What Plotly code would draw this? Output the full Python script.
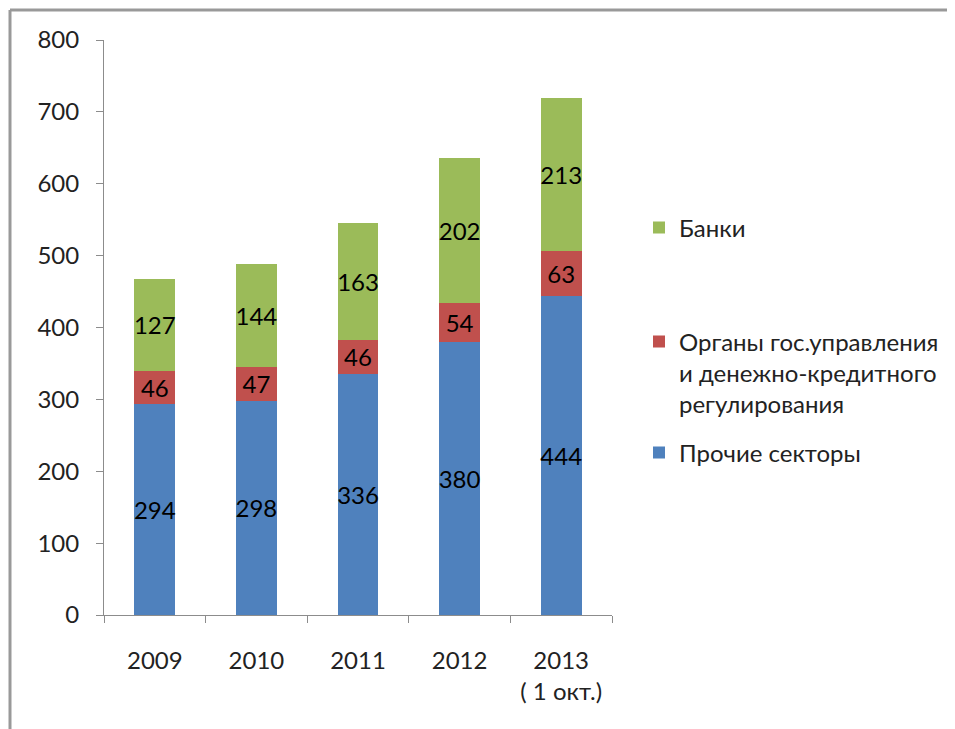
import plotly.graph_objects as go

years = ["2009", "2010", "2011", "2012", "2013<br>( 1 окт.)"]
other_sectors = [294, 298, 336, 380, 444]
government = [46, 47, 46, 54, 63]
banks = [127, 144, 163, 202, 213]

y_ticks = [0, 100, 200, 300, 400, 500, 600, 700, 800]

FONT = "Lato, 'Open Sans', sans-serif"
FONT_SIZE = 24
COLORS = {"other": "#4F81BD", "gov": "#C0504D", "banks": "#9BBB59"}

fig = go.Figure()

series = [
    ("Прочие секторы", other_sectors, COLORS["other"], "legend3"),
    ("Органы гос.управления<br>и денежно-кредитного<br>регулирования", government, COLORS["gov"], "legend2"),
    ("Банки", banks, COLORS["banks"], "legend"),
]
for name, vals, color, leg in series:
    fig.add_trace(go.Bar(
        x=years,
        y=vals,
        name=name,
        marker=dict(color=color, line=dict(width=0)),
        text=vals,
        textposition="inside",
        insidetextanchor="middle",
        constraintext="none",
        textangle=0,
        textfont=dict(color="black", size=FONT_SIZE, family=FONT),
        legend=leg,
        showlegend=True,
    ))

# plot area in the reference: x 104..612, y 40..615 (page has an 8px offset)
def px_x(p):
    return (p - 104) / 508

def px_y(p):
    return (615 - p) / 575

legend_style = dict(
    font=dict(size=FONT_SIZE, family=FONT, color="#222"),
    bgcolor="rgba(0,0,0,0)",
    xanchor="left",
    yanchor="middle",
    valign="top",
    itemwidth=30,
)

fig.update_layout(
    width=955,
    height=729,
    barmode="stack",
    bargap=0.6,
    showlegend=True,
    margin=dict(l=96, r=351, t=32, b=122, autoexpand=False),
    paper_bgcolor="white",
    plot_bgcolor="white",
    font=dict(family=FONT, size=FONT_SIZE, color="#222"),
    legend=dict(x=px_x(639), y=px_y(228), **legend_style),
    legend2=dict(x=px_x(639), y=px_y(373), **legend_style),
    legend3=dict(x=px_x(639), y=px_y(453), **legend_style),
    xaxis=dict(
        showline=True,
        linecolor="#8c8c8c",
        linewidth=1,
        ticks="outside",
        tickson="boundaries",
        ticklen=7,
        tickcolor="#8c8c8c",
        ticklabelstandoff=24,
        tickfont=dict(size=FONT_SIZE, family=FONT, color="#222"),
        showgrid=False,
        automargin=False,
    ),
    yaxis=dict(
        range=[0, 800],
        tickvals=y_ticks,
        showline=True,
        linecolor="#8c8c8c",
        linewidth=1,
        ticks="outside",
        ticklen=7,
        tickcolor="#8c8c8c",
        ticklabelstandoff=12,
        tickfont=dict(size=FONT_SIZE, family=FONT, color="#222"),
        showgrid=False,
        zeroline=False,
        automargin=False,
    ),
    shapes=[
        dict(type="line", xref="paper", yref="paper",
             x0=px_x(10), x1=px_x(970), y0=px_y(10), y1=px_y(10),
             line=dict(color="#999999", width=3)),
        dict(type="line", xref="paper", yref="paper",
             x0=px_x(10), x1=px_x(10), y0=px_y(10), y1=px_y(740),
             line=dict(color="#999999", width=3)),
    ],
)

fig.write_html("out.html")
